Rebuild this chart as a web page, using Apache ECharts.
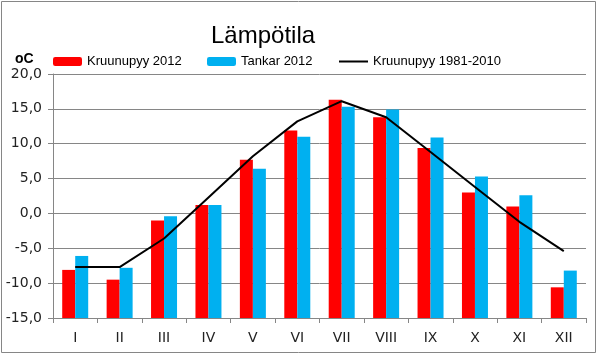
<!DOCTYPE html>
<html>
<head>
<meta charset="utf-8">
<script src="https://cdn.jsdelivr.net/npm/echarts@6.0.0/dist/echarts.min.js"></script>
<style>
html,body{margin:0;padding:0;background:#fff;}
#chart{width:601px;height:360px;}
</style>
</head>
<body>
<div id="chart"></div>
<script>
var months = ['I','II','III','IV','V','VI','VII','VIII','IX','X','XI','XII'];
var kruunupyy2012 = [-8.1,-9.5,-1.0,1.2,7.7,11.9,16.3,13.8,9.4,3.0,1.0,-10.6];
var tankar2012 = [-6.1,-7.8,-0.4,1.2,6.4,11.0,15.3,14.9,10.9,5.3,2.6,-8.2];
var kruunupyy8110 = [-7.7,-7.7,-3.6,2.3,8.2,13.2,16.1,13.8,8.8,3.8,-1.2,-5.4];
var seriesNames = ['Kruunupyy 2012','Tankar 2012','Kruunupyy 1981-2010'];
var titleText = 'Lämpötila';
var unitText = 'oC';

var FONT = "'Liberation Sans', Arial, sans-serif";
var AXFONT = "'DejaVu Sans', sans-serif";
var chart = echarts.init(document.getElementById('chart'), null, {renderer:'canvas'});
var legendText = {fontFamily: FONT, fontSize: 13, color: '#000'};
chart.setOption({
  animation: false,
  backgroundColor: '#fff',
  textStyle: {fontFamily: FONT},
  title: {
    text: titleText, left: 206, top: 19,
    textStyle: {fontFamily: FONT, fontSize: 24, fontWeight: 'normal', color: '#000'}
  },
  legend: [
    {data:[seriesNames[0]], left: 53, top: 55, itemWidth: 29, itemHeight: 9, textStyle: legendText, padding: 0, itemGap: 0},
    {data:[seriesNames[1]], left: 207, top: 55, itemWidth: 29, itemHeight: 9, textStyle: legendText, padding: 0, itemGap: 0},
    {data:[{name: seriesNames[2], icon: 'rect', itemStyle: {color: '#000'}}], left: 339, top: 55, itemWidth: 29, itemHeight: 2, textStyle: legendText, padding: 0, itemGap: 0}
  ],
  grid: {left: 53, right: 15, top: 74, bottom: 42, containLabel: false},
  xAxis: {
    type: 'category', data: months, boundaryGap: true,
    axisLine: {show: true, onZero: false, lineStyle: {color: '#868686', width: 1}},
    axisTick: {show: true, length: 5, lineStyle: {color: '#868686'}},
    axisLabel: {fontFamily: AXFONT, fontSize: 14, color: '#222', margin: 13},
    splitLine: {show: false}
  },
  yAxis: {
    type: 'value', min: -15, max: 20, interval: 5, startValue: -15,
    axisLine: {show: true, lineStyle: {color: '#868686', width: 1}},
    axisTick: {show: true, length: 5, lineStyle: {color: '#868686'}},
    axisLabel: {fontFamily: AXFONT, fontSize: 14, color: '#222', margin: 11,
      formatter: function(v){ return v.toFixed(1).replace('.', ','); }},
    splitLine: {show: true, lineStyle: {color: '#868686', width: 1}}
  },
  graphic: [
    {type: 'rect', shape: {x: 1.5, y: 1.5, width: 594, height: 351},
     style: {fill: 'none', stroke: '#868686', lineWidth: 1}, silent: true, z: -1},
    {type: 'text', left: 15, top: 52,
     style: {text: unitText, fontFamily: FONT, fontSize: 14, fontWeight: 'bold', fill: '#000'}}
  ],
  series: [
    {name: seriesNames[0], type: 'bar', data: kruunupyy2012, barWidth: 13, barGap: '0%',
     itemStyle: {color: '#FF0000'}, z: 2},
    {name: seriesNames[1], type: 'bar', data: tankar2012, barWidth: 13, barGap: '0%',
     itemStyle: {color: '#00B0F0'}, z: 2},
    {name: seriesNames[2], type: 'line', data: kruunupyy8110, symbol: 'none', showSymbol: false,
     lineStyle: {color: '#000', width: 2}, itemStyle: {color: '#000'}, z: 5}
  ]
});
</script>
</body>
</html>
